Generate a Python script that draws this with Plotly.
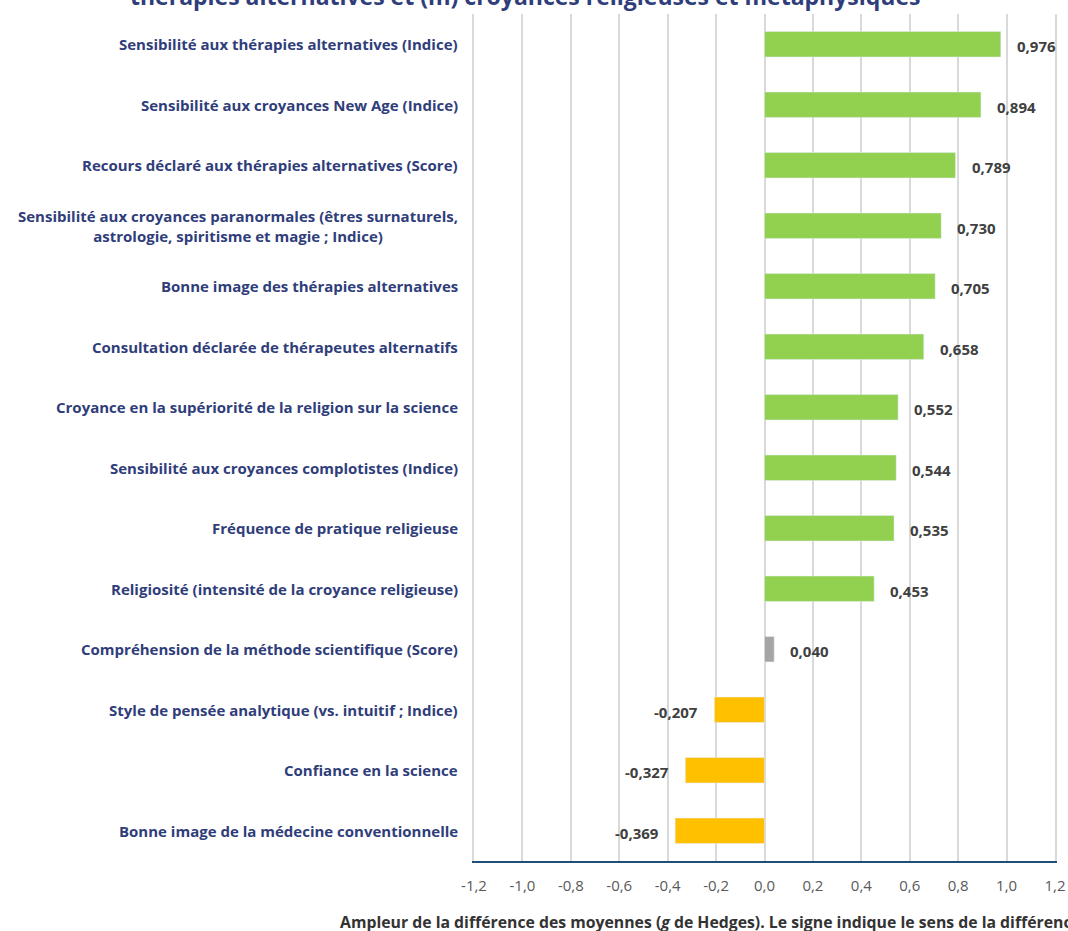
import plotly.graph_objects as go

categories = [
    "Sensibilité aux thérapies alternatives (Indice)",
    "Sensibilité aux croyances New Age (Indice)",
    "Recours déclaré aux thérapies alternatives (Score)",
    "Sensibilité aux croyances paranormales (êtres surnaturels,<br>astrologie, spiritisme et magie ; Indice)",
    "Bonne image des thérapies alternatives",
    "Consultation déclarée de thérapeutes alternatifs",
    "Croyance en la supériorité de la religion sur la science",
    "Sensibilité aux croyances complotistes (Indice)",
    "Fréquence de pratique religieuse",
    "Religiosité (intensité de la croyance religieuse)",
    "Compréhension de la méthode scientifique (Score)",
    "Style de pensée analytique (vs. intuitif ; Indice)",
    "Confiance en la science",
    "Bonne image de la médecine conventionnelle",
]
values = [0.976, 0.894, 0.789, 0.730, 0.705, 0.658, 0.552, 0.544, 0.535, 0.453, 0.040, -0.207, -0.327, -0.369]
tick_vals = [-1.2, -1.0, -0.8, -0.6, -0.4, -0.2, 0.0, 0.2, 0.4, 0.6, 0.8, 1.0, 1.2]
tick_text = ["-1,2", "-1,0", "-0,8", "-0,6", "-0,4", "-0,2", "0,0", "0,2", "0,4", "0,6", "0,8", "1,0", "1,2"]

GREEN, YELLOW, GREY = "#92D050", "#FFC000", "#A5A5A5"
colors = [GREY if abs(v) < 0.1 else (GREEN if v > 0 else YELLOW) for v in values]
NAVY = "#2F3D7A"
FONT = "Open Sans"

W, H = 1068, 931
ML, MR, MT, MB = 474, 13, 14, 70
PW = W - ML - MR

idx = list(range(len(categories)))

fig = go.Figure(go.Bar(
    x=values, y=idx, orientation="h", marker_color=colors, width=0.42,
    hoverinfo="skip",
))

annotations = []
for i, (c, v) in enumerate(zip(categories, values)):
    annotations.append(dict(
        x=0, xref="paper", y=i, yref="y", text=c, showarrow=False,
        xanchor="right", xshift=-14, align="center",
        font=dict(family=FONT, size=15, color=NAVY, weight="bold"),
    ))
    lab = f"{v:.3f}".replace(".", ",")
    annotations.append(dict(
        x=v, xref="x", y=i, yref="y", text=lab, showarrow=False,
        xanchor="left" if v >= 0 else "right", xshift=14 if v >= 0 else -14,
        yshift=-2,
        font=dict(family=FONT, size=15, color="#404040", weight="bold"),
    ))

annotations.append(dict(
    x=(525 - ML) / PW, xref="paper", xanchor="center", y=1, yref="paper", yanchor="middle",
    yshift=MT + 4,
    text="thérapies alternatives et (m) croyances religieuses et métaphysiques",
    showarrow=False,
    font=dict(family=FONT, size=23, color=NAVY, weight="bold"),
))
annotations.append(dict(
    x=(338 - ML) / PW, xref="paper", y=0, yref="paper", xanchor="left", yanchor="middle",
    text="Ampleur de la différence des moyennes (<i>g</i> de Hedges). Le signe indique le sens de la différence",
    showarrow=False, yshift=-(922 - (H - MB)),
    font=dict(family=FONT, size=15.8, color="#333333", weight="bold"),
))

fig.update_layout(
    width=W, height=H,
    margin=dict(l=ML, r=MR, t=MT, b=MB, autoexpand=False),
    plot_bgcolor="white", paper_bgcolor="white",
    showlegend=False,
    annotations=annotations,
    xaxis=dict(
        range=[-1.2, 1.2], tickvals=tick_vals, ticktext=tick_text,
        showgrid=True, gridcolor="#D9D9D9", gridwidth=2,
        zeroline=False, showline=True, linecolor="#1F4E79", linewidth=2,
        ticks="", tickfont=dict(family=FONT, size=15, color="#595959"),
        ticklabelstandoff=10, automargin=False,
    ),
    yaxis=dict(
        range=[len(categories) - 0.5, -0.5], showticklabels=False,
        showgrid=False, zeroline=False, showline=True, mirror=True,
        linecolor="#D9D9D9", linewidth=2, tickvals=idx,
        automargin=False,
    ),
)

fig.write_html(
    "out.html",
    config={"displayModeBar": False},
    post_script="document.body.style.margin='0';document.body.style.padding='0';document.body.style.overflow='hidden';",
)
